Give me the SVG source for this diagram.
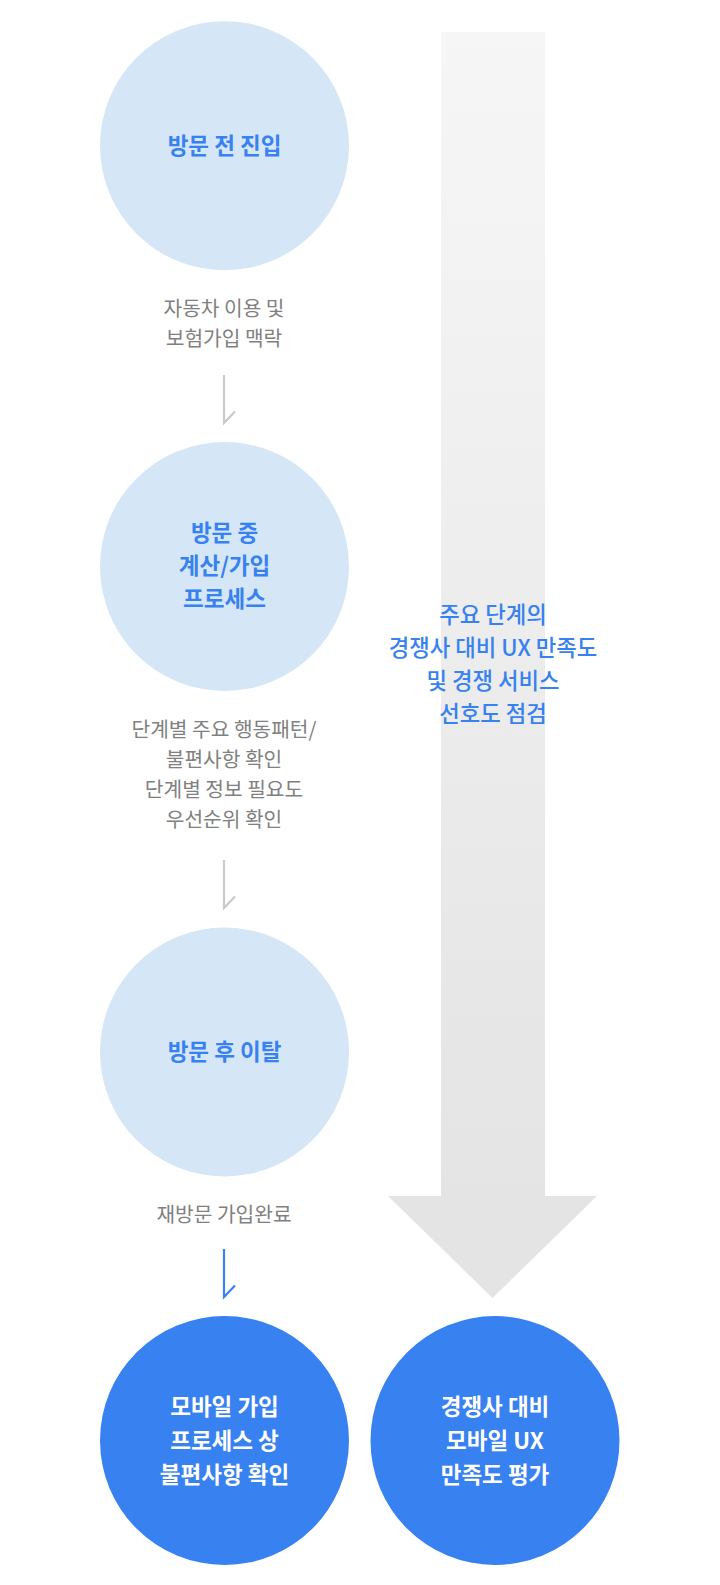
<svg xmlns="http://www.w3.org/2000/svg" width="720" height="1585" viewBox="0 0 720 1585">
<defs>
<linearGradient id="shaft" x1="0" y1="0" x2="0" y2="1">
<stop offset="0" stop-color="#f6f6f6"/>
<stop offset="1" stop-color="#e4e4e4"/>
</linearGradient>
<style>
.light{fill:#d5e6f7}
.dark{fill:#3781f0}
.t{font-family:"Noto Sans CJK KR","Noto Sans",sans-serif;text-anchor:middle}
.lt{font-size:22.5px;font-weight:700;fill:#3781f0}
.dt{font-size:22.5px;font-weight:700;fill:#ffffff}
.gl{font-size:20.3px;font-weight:400;fill:#808080}
.rt{font-size:22.3px;font-weight:500;fill:#3781f0}
.ga{fill:none;stroke:#c9c9c9;stroke-width:2.2}
.ba{fill:none;stroke:#3781f0;stroke-width:2.2}
</style>
</defs>
<rect width="720" height="1585" fill="#ffffff"/>
<g id="big-arrow">
<rect x="441" y="32" width="104" height="1165" fill="url(#shaft)"/>
<polygon points="388,1196 597,1196 492.5,1298" fill="#e4e4e4"/>
</g>
<g id="connectors">
<path class="ga" d="M224,375 V423 L235,411.5"/>
<path class="ga" d="M224,860 V908 L235,896.5"/>
<path class="ba" d="M224,1249 V1297 L235,1285.5"/>
</g>
<g id="node-before">
<circle class="light" cx="224.5" cy="145.7" r="124.5"/>
<text class="t lt" x="224.5" y="153.5">방문 전 진입</text>
</g>
<g id="label-before">
<text class="t gl" x="224" y="316">자동차 이용 및</text>
<text class="t gl" x="224" y="346">보험가입 맥락</text>
</g>
<g id="node-during">
<circle class="light" cx="224.5" cy="566.5" r="124.5"/>
<text class="t lt" x="224.5" y="540.5">방문 중</text>
<text class="t lt" x="224.5" y="573.5">계산/가입</text>
<text class="t lt" x="224.5" y="606.5">프로세스</text>
</g>
<g id="label-during">
<text class="t gl" x="224" y="737">단계별 주요 행동패턴/</text>
<text class="t gl" x="224" y="767">불편사항 확인</text>
<text class="t gl" x="224" y="797">단계별 정보 필요도</text>
<text class="t gl" x="224" y="827">우선순위 확인</text>
</g>
<g id="node-after">
<circle class="light" cx="224.5" cy="1052" r="124.5"/>
<text class="t lt" x="224.5" y="1059.5">방문 후 이탈</text>
</g>
<g id="label-after">
<text class="t gl" x="224" y="1222">재방문 가입완료</text>
</g>
<g id="node-mobile">
<circle class="dark" cx="224.5" cy="1440.5" r="124.5"/>
<text class="t dt" x="224.5" y="1415">모바일 가입</text>
<text class="t dt" x="224.5" y="1449">프로세스 상</text>
<text class="t dt" x="224.5" y="1483">불편사항 확인</text>
</g>
<g id="node-compare">
<circle class="dark" cx="495" cy="1440.5" r="124.5"/>
<text class="t dt" x="495" y="1415">경쟁사 대비</text>
<text class="t dt" x="495" y="1449">모바일 UX</text>
<text class="t dt" x="495" y="1483">만족도 평가</text>
</g>
<g id="arrow-label">
<text class="t rt" x="493" y="623">주요 단계의</text>
<text class="t rt" x="493" y="656">경쟁사 대비 UX 만족도</text>
<text class="t rt" x="493" y="689">및 경쟁 서비스</text>
<text class="t rt" x="493" y="722">선호도 점검</text>
</g>
</svg>
